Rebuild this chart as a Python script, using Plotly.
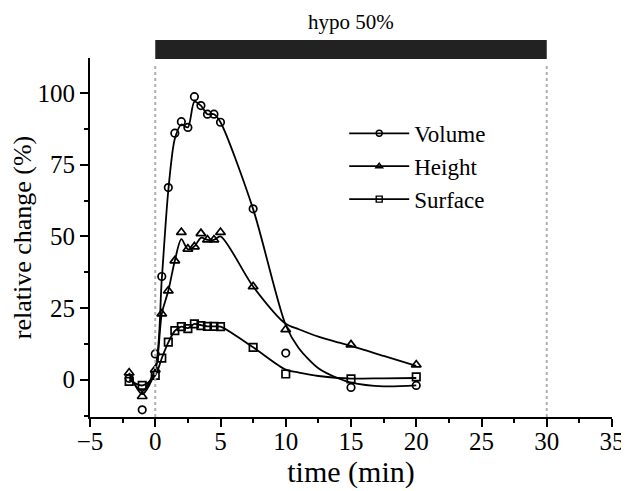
import plotly.graph_objects as go

# measurement times (min)
t_meas = [-2, -1, 0, 0.5, 1, 1.5, 2, 2.5, 3, 3.5, 4, 4.5, 5, 7.5, 10, 15, 20]
volume = [0.5, -10.5, 9.0, 36, 67, 86, 90, 88, 98.7, 95.6, 92.6, 92.6, 89.8, 59.6, 9.3, -2.7, -2.0]
height = [2.4, -5.8, 3.5, 23, 31, 41.5, 51.4, 45.6, 46.4, 51, 48.8, 48.8, 51.4, 32.5, 17.5, 12.2, 5.2]
surface = [-0.6, -2.0, 1.5, 7.5, 13.1, 17.1, 18.5, 17.8, 19.5, 18.9, 18.6, 18.6, 18.5, 11.3, 2.0, 0.3, 1.0]

# smoothed fit curves
t_fit = [-2, -1, 0, 0.5, 1, 1.5, 2, 2.5, 3, 3.5, 4, 4.5, 5, 7.5, 10, 11, 12.5, 14, 15, 17.5, 20]
volume_fit = [1, -4, 4, 35, 66, 84, 89, 88, 97, 95.6, 92.6, 92.6, 89.8, 59.5, 19, 11, 4, 0.5, -1.0, -2.3, -2]
height_fit = [2.4, -5, 3, 23, 31, 41.5, 49, 45.5, 46.5, 49.5, 48.8, 48.8, 50, 32.5, 19.5, 17.6, 15, 13, 11.8, 8.3, 4.8]
surface_fit = [0, -2, 1.5, 7.5, 13, 17, 18.5, 18, 19.5, 19, 18.6, 18.6, 18.5, 11.3, 3.5, 2.5, 1.3, 0.6, 0.4, 0.5, 0.6]

series_names = ["Volume", "Height", "Surface"]
symbols = ["circle-open", "triangle-up-open", "square-open"]
sizes = [7.5, 8.5, 7.5]

hypo_start, hypo_end = 0, 30
hypo_label = "hypo 50%"

FONT = "Liberation Serif, Times New Roman, serif"
fig = go.Figure()

for fitv, meas, name, sym, sz in zip([volume_fit, height_fit, surface_fit],
                                      [volume, height, surface],
                                      series_names, symbols, sizes):
    fig.add_trace(go.Scatter(x=t_fit, y=fitv, mode="lines",
                             line=dict(color="black", width=1.8, shape="spline", smoothing=0.8),
                             showlegend=False, hoverinfo="skip"))
    fig.add_trace(go.Scatter(x=t_meas, y=meas, mode="markers",
                             marker=dict(symbol=sym, size=sz, color="black",
                                         line=dict(color="black", width=1.7)),
                             showlegend=False, name=name))
    fig.add_trace(go.Scatter(x=[None], y=[None], mode="lines+markers", name=name,
                             line=dict(color="black", width=1.8),
                             marker=dict(symbol=sym, size=6, color="black",
                                         line=dict(color="black", width=1.4))))

for xv in (hypo_start, hypo_end):
    fig.add_shape(type="line", x0=xv, x1=xv, xref="x", yref="paper", y0=0, y1=0.98,
                  line=dict(color="#b0b0b0", width=2, dash="dot"))

fig.add_shape(type="rect", x0=hypo_start, x1=hypo_end, xref="x", yref="paper",
              y0=0.997, y1=1.05, fillcolor="#222222", line=dict(width=0))
fig.add_annotation(x=(hypo_start + hypo_end) / 2, y=1.062, xref="x", yref="paper",
                   text=hypo_label, showarrow=False, yanchor="bottom",
                   font=dict(family=FONT, size=21, color="black"))

# page body adds an 8px offset, so the figure is drawn 8px smaller
fig.update_layout(
    width=621, height=483,
    margin=dict(l=82, r=17, t=50, b=74),
    paper_bgcolor="white", plot_bgcolor="white",
    font=dict(family=FONT, color="black"),
    legend=dict(x=0.487, y=0.85, xanchor="left", yanchor="top",
                font=dict(family=FONT, size=23, color="black"),
                bgcolor="rgba(0,0,0,0)", itemwidth=60, tracegroupgap=0),
    xaxis=dict(range=[-5, 35], tickvals=[-5, 0, 5, 10, 15, 20, 25, 30, 35],
               automargin=False,
               ticks="outside", ticklen=8, tickwidth=1.5, tickcolor="black",
               showline=True, linecolor="black", linewidth=1.8, showgrid=False, zeroline=False,
               tickfont=dict(family=FONT, size=25), ticklabelstandoff=-7,
               minor=dict(dtick=2.5, tick0=0, ticks="outside", ticklen=4, tickwidth=1.5, tickcolor="black"),
               title=dict(text="time (min)", font=dict(family=FONT, size=30), standoff=0)),
    yaxis=dict(range=[-13.0, 112.2], tickvals=[0, 25, 50, 75, 100],
               automargin=False,
               ticks="outside", ticklen=8, tickwidth=1.5, tickcolor="black",
               showline=True, linecolor="black", linewidth=1.8, showgrid=False, zeroline=False,
               tickfont=dict(family=FONT, size=25),
               minor=dict(dtick=12.5, tick0=0, ticks="outside", ticklen=4, tickwidth=1.5, tickcolor="black"),
               title=dict(text="relative change (%)", font=dict(family=FONT, size=26), standoff=6)),
)

fig.write_html("out.html")
